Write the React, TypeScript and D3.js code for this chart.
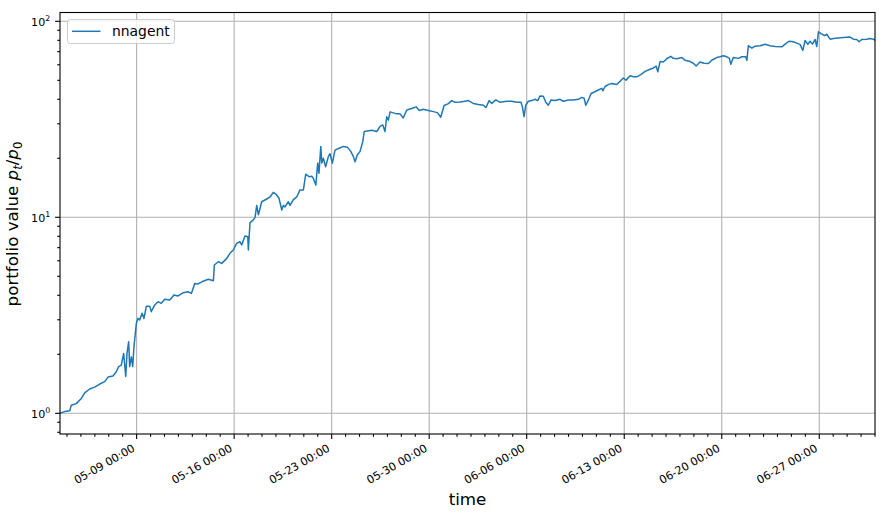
import React from 'react'
import * as d3 from 'd3'

// first sample of the back-test, values are p_t / p_0
const START = new Date(2018, 4, 3, 12, 0)
const END = new Date(2018, 6, 1, 0, 0)
const seriesName = 'nnagent'

// days elapsed since START
const dayOffsets = [
  0.0, 0.34, 0.7, 0.81, 1.17, 1.53, 1.77, 2.13, 2.49, 2.85, 3.21, 3.45, 3.8, 4.04, 4.21, 4.4,
  4.57, 4.72, 4.81, 4.93, 5.0, 5.12, 5.22, 5.31, 5.48, 5.6, 5.72, 5.89, 6.03, 6.2, 6.44, 6.55,
  6.8, 7.04, 7.27, 7.52, 7.88, 8.18, 8.47, 8.83, 9.19, 9.43, 9.67, 9.91, 10.22, 10.65, 11.01,
  11.08, 11.36, 11.61, 11.97, 12.2, 12.44, 12.68, 12.92, 13.04, 13.28, 13.48, 13.52, 13.64,
  13.88, 14.0, 14.12, 14.24, 14.48, 14.84, 15.08, 15.31, 15.51, 15.72, 15.92, 16.03, 16.15,
  16.39, 16.51, 16.75, 16.99, 17.23, 17.47, 17.64, 17.88, 18.07, 18.18, 18.36, 18.5, 18.59,
  18.72, 18.79, 18.9, 19.07, 19.26, 19.38, 19.55, 19.74, 20.03, 20.34, 20.62, 20.87, 21.06,
  21.18, 21.34, 21.54, 21.73, 21.84, 22.06, 22.38, 22.74, 22.97, 23.17, 23.33, 23.45, 23.57,
  23.69, 24.05, 24.41, 24.64, 24.89, 25.25, 25.56, 25.79, 26.08, 26.44, 26.8, 27.09, 27.33,
  27.57, 27.88, 28.12, 28.36, 28.72, 29.07, 29.31, 29.67, 30.03, 30.39, 30.58, 30.8, 30.99,
  31.28, 31.59, 32.07, 32.43, 32.79, 33.09, 33.19, 33.31, 33.43, 33.62, 33.86, 34.1, 34.29,
  34.46, 34.69, 34.87, 35.05, 35.25, 35.53, 35.89, 36.13, 36.49, 36.85, 37.21, 37.45, 37.62,
  37.74, 37.93, 38.12, 38.36, 38.6, 38.89, 38.96, 39.12, 39.43, 39.61, 39.96, 40.2, 40.44,
  40.63, 40.92, 41.16, 41.4, 41.69, 42.0, 42.35, 42.59, 42.79, 42.91, 43.07, 43.31, 43.55,
  43.84, 44.03, 44.27, 44.63, 44.87, 45.23, 45.46, 45.66, 45.94, 46.23, 46.54, 46.78, 47.14,
  47.38, 47.62, 47.86, 48.05, 48.15, 48.33, 48.69, 48.94, 49.22, 49.3, 49.41, 49.66, 49.89,
  50.25, 50.61, 50.97, 51.33, 51.81, 52.05, 52.33, 52.64, 52.89, 53.12, 53.32, 53.48, 53.68,
  53.84, 54.01, 54.2, 54.32, 54.44, 54.63, 54.87, 55.04, 55.28, 55.51, 55.87, 56.23, 56.71,
  56.95, 57.19, 57.36, 57.55, 57.91, 58.15, 58.4, 58.5,
]

const portfolioValues = [
  1.0, 1.02, 1.03, 1.1, 1.12, 1.19, 1.27, 1.33, 1.36, 1.41, 1.45, 1.53, 1.55, 1.63, 1.73, 1.76,
  2.02, 1.54, 2.02, 2.32, 1.73, 1.94, 1.73, 2.19, 2.88, 3.05, 2.99, 3.24, 3.05, 3.52, 3.52, 3.3,
  3.57, 3.71, 3.64, 3.82, 3.78, 4.01, 3.97, 4.12, 4.17, 4.09, 4.6, 4.57, 4.7, 4.83, 4.75,
  5.71, 5.93, 5.82, 6.17, 6.55, 6.81, 7.36, 7.5, 7.22, 8.03, 7.96, 6.81, 9.4,
  9.7, 10.0, 11.5, 10.3, 12.0, 12.4, 12.7, 13.4, 13.1, 12.5, 10.9, 11.5, 11.3,
  12.0, 11.5, 12.3, 12.7, 13.8, 13.8, 16.6, 16.1, 16.2, 15.8, 14.6, 18.9, 16.8,
  23.0, 18.9, 20.0, 18.1, 20.4, 21.1, 18.9, 22.0, 22.5, 23.0, 22.8, 21.7, 20.4,
  19.2, 20.8, 21.7, 24.3, 27.4, 27.6, 27.8, 27.4, 29.1, 29.6, 27.4, 32.6, 31.3,
  34.5, 33.9, 33.7, 32.1, 35.3, 35.9, 36.6, 35.1, 35.6, 35.1, 34.6, 34.2, 32.4,
  37.2, 38.0, 39.4, 38.6, 38.7, 39.1, 39.4, 38.1, 37.6, 37.3, 36.3, 39.4, 38.1,
  39.7, 38.6, 39.1, 39.1, 38.6, 38.6, 36.6, 32.6, 37.3, 39.1, 39.4, 40.0, 39.4,
  41.6, 41.5, 38.6, 37.3, 39.7, 39.4, 40.0, 39.1, 39.7, 39.7, 40.0, 40.9, 40.5,
  37.3, 39.7, 42.8, 43.6, 44.5, 45.5, 44.2, 46.5, 47.8, 48.1, 47.6, 49.4, 51.4,
  50.1, 52.7, 52.1, 52.1, 53.5, 55.5, 56.9, 57.8, 59.1, 55.3, 62.3, 62.0, 64.4,
  66.3, 64.7, 64.4, 65.3, 63.3, 62.3, 61.1, 59.1, 62.0, 61.1, 60.9, 63.3, 65.3,
  65.9, 66.7, 65.9, 64.7, 60.3, 65.4, 64.7, 65.9, 65.9, 63.2, 75.1, 73.0, 74.7,
  75.1, 76.3, 75.1, 74.4, 74.1, 76.5, 79.1, 78.6, 77.4, 76.3, 71.1, 79.8, 76.3,
  79.1, 76.5, 80.8, 74.4, 88.4, 86.6, 84.5, 85.9, 81.1, 81.6, 82.3, 82.6, 83.1,
  81.1, 80.8, 78.6, 80.8, 81.1, 81.6, 81.1, 79.8,
]

const yLimits = [0.784, 110.9]
const yMajorTicks = [1, 10, 100]

const W = 883
const H = 517
const box = { left: 60, right: 875, top: 12.5, bottom: 434 }
const FONT = 'DejaVu Sans'
const LINE = '#1f77b4'
const GRID = '#b0b0b0'

const App = () => {
  const data = dayOffsets.map((d, i) => ({
    date: new Date(START.getTime() + d * 864e5),
    value: portfolioValues[i],
  }))

  const xScale = d3.scaleTime().domain([START, END]).range([box.left, box.right])
  const yScale = d3.scaleLog().domain(yLimits).range([box.bottom, box.top])

  const xMajor = d3.timeWednesday.range(START, END)
  const majorKeys = new Set(xMajor.map((d) => d.getTime()))
  const xMinor = d3.timeDay.range(START, d3.timeDay.offset(END, 1)).filter((d) => !majorKeys.has(d.getTime()) && d <= END)
  const yMinor = yScale.ticks().filter((v) => !yMajorTicks.includes(v))
  const fmt = d3.timeFormat('%m-%d %H:%M')

  const lineGen = d3
    .line<{ date: Date; value: number }>()
    .x((d) => xScale(d.date))
    .y((d) => yScale(d.value))

  return (
    <svg width={W} height={H} style={{ position: 'absolute', left: 0, top: 0, background: '#fff' }} fontFamily={FONT}>
      <rect x={0} y={0} width={W} height={H} fill="#fff" />
      {/* grid */}
      <g stroke={GRID} strokeWidth={1.1}>
        {xMajor.map((d) => (
          <line key={'gx' + d.getTime()} x1={xScale(d)} x2={xScale(d)} y1={box.top} y2={box.bottom} />
        ))}
        {yMajorTicks.map((v) => (
          <line key={'gy' + v} x1={box.left} x2={box.right} y1={yScale(v)} y2={yScale(v)} />
        ))}
      </g>

      <path d={lineGen(data) || ''} fill="none" stroke={LINE} strokeWidth={1.5} strokeLinejoin="round" />

      {/* spines */}
      <rect x={box.left} y={box.top} width={box.right - box.left} height={box.bottom - box.top} fill="none" stroke="#000" strokeWidth={1.1} />

      {/* x ticks */}
      <g stroke="#000" strokeWidth={1.1}>
        {xMajor.map((d) => (
          <line key={'tx' + d.getTime()} x1={xScale(d)} x2={xScale(d)} y1={box.bottom} y2={box.bottom + 4.9} />
        ))}
        {xMinor.map((d) => (
          <line key={'mx' + d.getTime()} x1={xScale(d)} x2={xScale(d)} y1={box.bottom} y2={box.bottom + 2.8} />
        ))}
        {yMajorTicks.map((v) => (
          <line key={'ty' + v} x1={box.left - 4.9} x2={box.left} y1={yScale(v)} y2={yScale(v)} />
        ))}
        {yMinor.map((v) => (
          <line key={'my' + v} x1={box.left - 2.8} x2={box.left} y1={yScale(v)} y2={yScale(v)} />
        ))}
      </g>

      {/* x tick labels */}
      {xMajor.map((d) => {
        const x = xScale(d) - 1
        const y = box.bottom + 16.5
        return (
          <text key={'lx' + d.getTime()} x={x} y={y} fontSize={11.1} textAnchor="end" fill="#000" transform={`rotate(-30 ${x} ${y})`}>
            {fmt(d)}
          </text>
        )
      })}

      {/* y tick labels */}
      {yMajorTicks.map((v) => (
        <text key={'ly' + v} x={box.left - 9.8} y={yScale(v) + 5} fontSize={11.1} textAnchor="end" fill="#000">
          10
          <tspan fontSize={7.8} dy={-5.5}>
            {Math.round(Math.log10(v))}
          </tspan>
        </text>
      ))}

      {/* axis labels */}
      <text x={(box.left + box.right) / 2} y={505} fontSize={16.7} textAnchor="middle" fill="#000">
        time
      </text>
      <text transform={`translate(18,224) rotate(-90)`} fontSize={16.7} textAnchor="middle" fill="#000">
        portfolio value{' '}
        <tspan fontStyle="italic">p</tspan>
        <tspan fontStyle="italic" fontSize={11.7} dy={3.5}>t</tspan>
        <tspan dy={-3.5}>/</tspan>
        <tspan fontStyle="italic">p</tspan>
        <tspan fontSize={11.7} dy={3.5}>0</tspan>
      </text>

      {/* legend */}
      <rect x={67.5} y={19.5} width={107} height={24} rx={2.8} fill="#fff" fillOpacity={0.8} stroke="#cccccc" strokeWidth={1} />
      <line x1={72} x2={100.5} y1={31.3} y2={31.3} stroke={LINE} strokeWidth={1.5} />
      <text x={112} y={36} fontSize={13.9} fill="#000">
        {seriesName}
      </text>
    </svg>
  )
}

export default App
